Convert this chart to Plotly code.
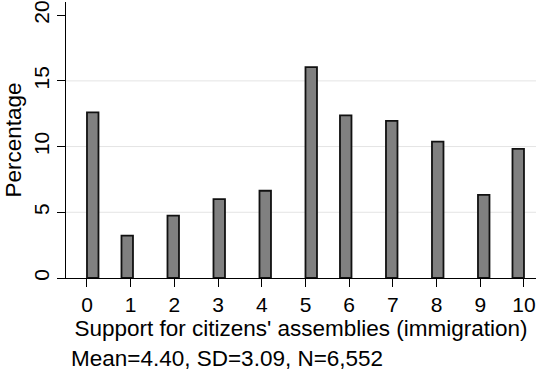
import math
import plotly.graph_objects as go

# ---- data ----
categories = [0, 1, 2, 3, 4, 5, 6, 7, 8, 9, 10]
percentages = [12.6, 3.23, 4.75, 6.0, 6.64, 16.05, 12.38, 11.95, 10.38, 6.32, 9.83]
x_ticks = [0, 1, 2, 3, 4, 5, 6, 7, 8, 9, 10]
y_ticks = [0, 5, 10, 15, 20]
grid_y = [5, 10, 15]
x_title = "Support for citizens' assemblies (immigration)"
y_title = "Percentage"
note = "Mean=4.40, SD=3.09, N=6,552"

# histogram binning (38 equal bins over 0..10, as in the source histogram)
XMIN, XMAX, NBINS = 0, 10, 38
bw = (XMAX - XMIN) / NBINS
centers = []
for v in categories:
    k = min(int((v - XMIN) * NBINS / (XMAX - XMIN) + 1e-9), NBINS - 1)
    centers.append(XMIN + (k + 0.5) * bw)

FONT = "Liberation Sans, Arial, Helvetica, sans-serif"

fig = go.Figure()
fig.add_trace(go.Bar(
    x=centers, y=percentages, width=bw,
    marker=dict(color="#808080", line=dict(color="#111111", width=1.8)),
    showlegend=False,
))

for g in grid_y:
    fig.add_shape(type="line", xref="paper", yref="y", x0=0, x1=1, y0=g, y1=g,
                  line=dict(color="#e4e4e4", width=1), layer="below")

fig.update_layout(
    template="none",
    width=536, height=374,
    margin=dict(l=66, r=0, t=2, b=96, autoexpand=False),
    paper_bgcolor="white", plot_bgcolor="white",
    font=dict(family=FONT, size=21, color="black"),
    xaxis=dict(
        range=[-0.48, 10.275], tickmode="array", tickvals=x_ticks,
        ticktext=[str(t) for t in x_ticks],
        showgrid=False, zeroline=False,
        showline=True, linecolor="black", linewidth=1,
        ticks="outside", ticklen=8, tickwidth=1, tickcolor="black",
        tickfont=dict(size=21), automargin=False,
        title=dict(text=x_title, font=dict(size=22.5), standoff=5),
    ),
    yaxis=dict(
        range=[0, 21.0], tickmode="array", tickvals=y_ticks,
        ticktext=[str(t) for t in y_ticks],
        showgrid=False, zeroline=False,
        showline=True, linecolor="black", linewidth=1,
        ticks="outside", ticklen=8, tickwidth=1, tickcolor="black",
        tickangle=-90, tickfont=dict(size=21), automargin=False,
        title=dict(text=y_title, font=dict(size=22.5), standoff=1),
    ),
    annotations=[dict(
        text=note, xref="paper", yref="paper", x=0.006, y=-0.292,
        xanchor="left", yanchor="middle", showarrow=False,
        font=dict(size=22.5, family=FONT, color="black"),
    )],
)

fig.write_html("out.html")
